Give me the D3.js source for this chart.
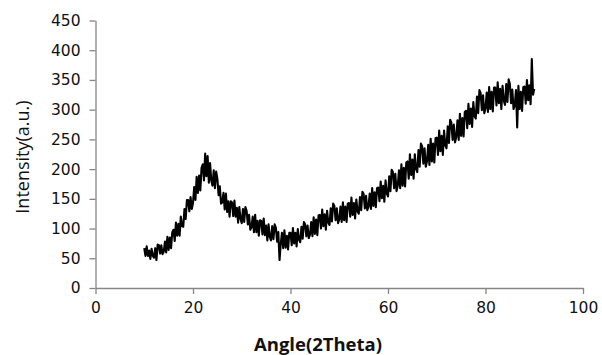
<!DOCTYPE html>
<html>
<head>
<meta charset="utf-8">
<script src="https://cdn.jsdelivr.net/npm/d3@7"></script>
<style>
  html, body { margin: 0; padding: 0; background: #fff; }
  svg { display: block; }
</style>
</head>
<body>
<svg id="chart" width="602" height="355"></svg>
<script>
const angles = [
10,10.25,10.5,10.75, 11,11.25,11.5,11.75, 12,12.25,12.5,12.75, 13,13.25,13.5,13.75,
14,14.25,14.5,14.75, 15,15.25,15.5,15.75, 16,16.25,16.5,16.75, 17,17.25,17.5,17.75,
18,18.25,18.5,18.75, 19,19.25,19.5,19.75, 20,20.25,20.5,20.75, 21,21.25,21.5,21.75,
22,22.25,22.5,22.75, 23,23.25,23.5,23.75, 24,24.25,24.5,24.75, 25,25.25,25.5,25.75,
26,26.25,26.5,26.75, 27,27.25,27.5,27.75, 28,28.25,28.5,28.75, 29,29.25,29.5,29.75,
30,30.25,30.5,30.75, 31,31.25,31.5,31.75, 32,32.25,32.5,32.75, 33,33.25,33.5,33.75,
34,34.25,34.5,34.75, 35,35.25,35.5,35.75, 36,36.25,36.5,36.75, 37,37.25,37.5,37.75,
38,38.25,38.5,38.75, 39,39.25,39.5,39.75, 40,40.25,40.5,40.75, 41,41.25,41.5,41.75,
42,42.25,42.5,42.75, 43,43.25,43.5,43.75, 44,44.25,44.5,44.75, 45,45.25,45.5,45.75,
46,46.25,46.5,46.75, 47,47.25,47.5,47.75, 48,48.25,48.5,48.75, 49,49.25,49.5,49.75,
50,50.25,50.5,50.75, 51,51.25,51.5,51.75, 52,52.25,52.5,52.75, 53,53.25,53.5,53.75,
54,54.25,54.5,54.75, 55,55.25,55.5,55.75, 56,56.25,56.5,56.75, 57,57.25,57.5,57.75,
58,58.25,58.5,58.75, 59,59.25,59.5,59.75, 60,60.25,60.5,60.75, 61,61.25,61.5,61.75,
62,62.25,62.5,62.75, 63,63.25,63.5,63.75, 64,64.25,64.5,64.75, 65,65.25,65.5,65.75,
66,66.25,66.5,66.75, 67,67.25,67.5,67.75, 68,68.25,68.5,68.75, 69,69.25,69.5,69.75,
70,70.25,70.5,70.75, 71,71.25,71.5,71.75, 72,72.25,72.5,72.75, 73,73.25,73.5,73.75,
74,74.25,74.5,74.75, 75,75.25,75.5,75.75, 76,76.25,76.5,76.75, 77,77.25,77.5,77.75,
78,78.25,78.5,78.75, 79,79.25,79.5,79.75, 80,80.25,80.5,80.75, 81,81.25,81.5,81.75,
82,82.25,82.5,82.75, 83,83.25,83.5,83.75, 84,84.25,84.5,84.75, 85,85.25,85.5,85.75,
86,86.25,86.5,86.75, 87,87.25,87.5,87.75, 88,88.25,88.5,88.75, 89,89.25,89.5,89.75,
90
];

const intensity = [
67,54,70,54, 63,49,66,54, 51,67,47,73, 72,58,72,57,
61,78,60,86, 64,85,67,94, 98,79,110,88, 108,88,120,104,
103,133,116,148, 148,129,153,133, 143,170,148,187, 160,189,164,202,
208,181,226,188, 222,177,210,181, 172,198,168,196, 184,156,171,142,
144,160,132,159, 128,146,120,146, 144,121,147,120, 135,110,136,116,
109,133,111,136, 130,107,123,98, 102,120,94,123, 94,113,88,114,
113,90,117,89, 105,80,107,86, 80,104,82,107, 101,78,94,47,
74,93,67,97, 68,88,65,93, 93,72,101,75, 93,70,99,81,
77,103,83,111, 107,87,105,84, 90,111,87,119, 91,115,89,122,
123,100,132,104, 124,98,130,110, 106,134,112,142, 138,114,134,109,
115,137,111,144, 114,137,111,142, 143,120,152,123, 143,117,149,129,
125,153,131,162, 158,134,155,131, 137,159,133,168, 138,161,136,168,
169,146,179,151, 172,145,181,159, 154,188,163,199, 195,168,192,163,
172,198,168,208, 172,202,171,211, 213,184,225,190, 216,184,225,200,
195,232,204,243, 238,209,235,204, 213,241,207,251, 213,243,211,252,
253,224,265,230, 256,224,265,240, 235,272,244,283, 278,249,275,245,
254,282,249,293, 256,286,255,296, 298,269,310,276, 302,271,313,289,
285,322,294,333, 328,299,324,294, 302,329,296,338, 301,330,297,337,
337,307,346,311, 335,301,340,315, 308,343,313,351, 343,311,334,301,
307,333,270,340, 301,330,298,338, 339,310,350,316, 341,309,385,325,
335
];

const xTicks = [0, 20, 40, 60, 80, 100];
const yTicks = [0, 50, 100, 150, 200, 250, 300, 350, 400, 450];
const xTitle = "Angle(2Theta)";
const yTitle = "Intensity(a.u.)";

const svg = d3.select("#chart");
const x = d3.scaleLinear().domain([0, 100]).range([95.5, 583]);
const y = d3.scaleLinear().domain([0, 450]).range([288, 20.5]);

const axisColor = "#868686";
const tickFont = "'DejaVu Sans', Verdana, sans-serif";

const xAxis = svg.append("g")
  .attr("transform", `translate(0,${y(0)})`)
  .call(d3.axisBottom(x).tickValues(xTicks).tickSize(6).tickSizeOuter(0).tickPadding(8).tickFormat(d3.format("d")));
const yAxis = svg.append("g")
  .attr("transform", `translate(${x(0)},0)`)
  .call(d3.axisLeft(y).tickValues(yTicks).tickSize(6).tickSizeOuter(0).tickPadding(9).tickFormat(d3.format("d")));

[xAxis, yAxis].forEach(g => {
  g.select(".domain").attr("stroke", axisColor).attr("stroke-width", 1.3);
  g.selectAll(".tick line").attr("stroke", axisColor).attr("stroke-width", 1.3);
  g.selectAll(".tick text").attr("fill", "#111").style("font-family", tickFont).style("font-size", "15.5px");
});

const data = angles.map((a, i) => ({ a, v: intensity[i] }));
const line = d3.line().x(d => x(d.a)).y(d => y(d.v));
svg.append("path")
  .datum(data)
  .attr("fill", "none")
  .attr("stroke", "#000")
  .attr("stroke-width", 2.1)
  .attr("stroke-linejoin", "round")
  .attr("d", line);

svg.append("text")
  .attr("x", 318).attr("y", 351)
  .attr("text-anchor", "middle")
  .style("font-family", "'Open Sans', Lato, sans-serif")
  .style("font-weight", "bold")
  .style("font-size", "18.5px")
  .attr("fill", "#111")
  .text(xTitle);

svg.append("text")
  .attr("transform", "translate(29,157) rotate(-90)")
  .attr("text-anchor", "middle")
  .style("font-family", "'Open Sans', Lato, sans-serif")
  .style("font-size", "18px")
  .attr("fill", "#111")
  .text(yTitle);
</script>
</body>
</html>
